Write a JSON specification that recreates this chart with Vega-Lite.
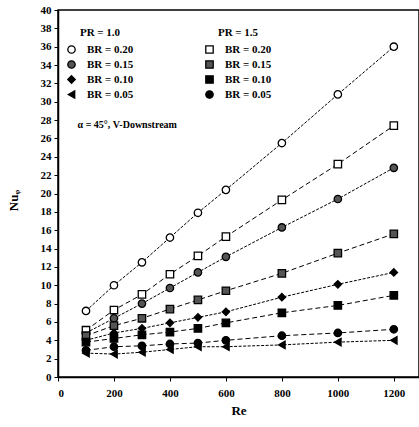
{
  "$schema": "https://vega.github.io/schema/vega-lite/v6.json",
  "width": 361,
  "height": 367,
  "autosize": "none",
  "padding": {"left": 58, "top": 10, "right": 0, "bottom": 50},
  "background": "white",
  "config": {
    "view": {"stroke": "black", "strokeWidth": 1.5},
    "axis": {
      "grid": false,
      "labelFont": "Liberation Serif",
      "labelFontWeight": "bold",
      "labelFontSize": 11,
      "labelColor": "black",
      "titleFont": "Liberation Serif",
      "titleFontWeight": "bold",
      "titleFontSize": 13,
      "titleColor": "black",
      "domainColor": "black",
      "domainWidth": 1.5,
      "tickColor": "black",
      "tickSize": 4
    },
    "legend": {
      "labelFont": "Liberation Serif",
      "labelFontWeight": "bold",
      "labelFontSize": 11,
      "labelColor": "black",
      "labelOffset": 10,
      "titleFont": "Liberation Serif",
      "titleFontWeight": "bold",
      "titleFontSize": 11,
      "titleColor": "black",
      "rowPadding": 2,
      "symbolSize": 55,
      "symbolStrokeWidth": 1.3
    }
  },
  "datasets": {
    "main": [
      {"re": 100, "nu": 7.2, "pr": "1.0", "br": "0.20"},
      {"re": 200, "nu": 10.0, "pr": "1.0", "br": "0.20"},
      {"re": 300, "nu": 12.5, "pr": "1.0", "br": "0.20"},
      {"re": 400, "nu": 15.2, "pr": "1.0", "br": "0.20"},
      {"re": 500, "nu": 17.9, "pr": "1.0", "br": "0.20"},
      {"re": 600, "nu": 20.4, "pr": "1.0", "br": "0.20"},
      {"re": 800, "nu": 25.5, "pr": "1.0", "br": "0.20"},
      {"re": 1000, "nu": 30.8, "pr": "1.0", "br": "0.20"},
      {"re": 1200, "nu": 36.0, "pr": "1.0", "br": "0.20"},
      {"re": 100, "nu": 4.8, "pr": "1.0", "br": "0.15"},
      {"re": 200, "nu": 6.4, "pr": "1.0", "br": "0.15"},
      {"re": 300, "nu": 8.0, "pr": "1.0", "br": "0.15"},
      {"re": 400, "nu": 9.7, "pr": "1.0", "br": "0.15"},
      {"re": 500, "nu": 11.4, "pr": "1.0", "br": "0.15"},
      {"re": 600, "nu": 13.1, "pr": "1.0", "br": "0.15"},
      {"re": 800, "nu": 16.3, "pr": "1.0", "br": "0.15"},
      {"re": 1000, "nu": 19.4, "pr": "1.0", "br": "0.15"},
      {"re": 1200, "nu": 22.8, "pr": "1.0", "br": "0.15"},
      {"re": 100, "nu": 4.0, "pr": "1.0", "br": "0.10"},
      {"re": 200, "nu": 4.8, "pr": "1.0", "br": "0.10"},
      {"re": 300, "nu": 5.3, "pr": "1.0", "br": "0.10"},
      {"re": 400, "nu": 5.9, "pr": "1.0", "br": "0.10"},
      {"re": 500, "nu": 6.5, "pr": "1.0", "br": "0.10"},
      {"re": 600, "nu": 7.1, "pr": "1.0", "br": "0.10"},
      {"re": 800, "nu": 8.7, "pr": "1.0", "br": "0.10"},
      {"re": 1000, "nu": 10.1, "pr": "1.0", "br": "0.10"},
      {"re": 1200, "nu": 11.4, "pr": "1.0", "br": "0.10"},
      {"re": 100, "nu": 2.6, "pr": "1.0", "br": "0.05"},
      {"re": 200, "nu": 2.5, "pr": "1.0", "br": "0.05"},
      {"re": 300, "nu": 2.7, "pr": "1.0", "br": "0.05"},
      {"re": 400, "nu": 3.0, "pr": "1.0", "br": "0.05"},
      {"re": 500, "nu": 3.3, "pr": "1.0", "br": "0.05"},
      {"re": 600, "nu": 3.3, "pr": "1.0", "br": "0.05"},
      {"re": 800, "nu": 3.5, "pr": "1.0", "br": "0.05"},
      {"re": 1000, "nu": 3.8, "pr": "1.0", "br": "0.05"},
      {"re": 1200, "nu": 4.0, "pr": "1.0", "br": "0.05"},
      {"re": 100, "nu": 5.1, "pr": "1.5", "br": "0.20"},
      {"re": 200, "nu": 7.3, "pr": "1.5", "br": "0.20"},
      {"re": 300, "nu": 9.0, "pr": "1.5", "br": "0.20"},
      {"re": 400, "nu": 11.2, "pr": "1.5", "br": "0.20"},
      {"re": 500, "nu": 13.2, "pr": "1.5", "br": "0.20"},
      {"re": 600, "nu": 15.3, "pr": "1.5", "br": "0.20"},
      {"re": 800, "nu": 19.3, "pr": "1.5", "br": "0.20"},
      {"re": 1000, "nu": 23.2, "pr": "1.5", "br": "0.20"},
      {"re": 1200, "nu": 27.4, "pr": "1.5", "br": "0.20"},
      {"re": 100, "nu": 4.5, "pr": "1.5", "br": "0.15"},
      {"re": 200, "nu": 5.6, "pr": "1.5", "br": "0.15"},
      {"re": 300, "nu": 6.4, "pr": "1.5", "br": "0.15"},
      {"re": 400, "nu": 7.4, "pr": "1.5", "br": "0.15"},
      {"re": 500, "nu": 8.4, "pr": "1.5", "br": "0.15"},
      {"re": 600, "nu": 9.4, "pr": "1.5", "br": "0.15"},
      {"re": 800, "nu": 11.3, "pr": "1.5", "br": "0.15"},
      {"re": 1000, "nu": 13.5, "pr": "1.5", "br": "0.15"},
      {"re": 1200, "nu": 15.6, "pr": "1.5", "br": "0.15"},
      {"re": 100, "nu": 3.8, "pr": "1.5", "br": "0.10"},
      {"re": 200, "nu": 4.2, "pr": "1.5", "br": "0.10"},
      {"re": 300, "nu": 4.6, "pr": "1.5", "br": "0.10"},
      {"re": 400, "nu": 4.9, "pr": "1.5", "br": "0.10"},
      {"re": 500, "nu": 5.3, "pr": "1.5", "br": "0.10"},
      {"re": 600, "nu": 5.9, "pr": "1.5", "br": "0.10"},
      {"re": 800, "nu": 7.0, "pr": "1.5", "br": "0.10"},
      {"re": 1000, "nu": 7.8, "pr": "1.5", "br": "0.10"},
      {"re": 1200, "nu": 8.9, "pr": "1.5", "br": "0.10"},
      {"re": 100, "nu": 2.9, "pr": "1.5", "br": "0.05"},
      {"re": 200, "nu": 3.3, "pr": "1.5", "br": "0.05"},
      {"re": 300, "nu": 3.4, "pr": "1.5", "br": "0.05"},
      {"re": 400, "nu": 3.6, "pr": "1.5", "br": "0.05"},
      {"re": 500, "nu": 3.7, "pr": "1.5", "br": "0.05"},
      {"re": 600, "nu": 4.0, "pr": "1.5", "br": "0.05"},
      {"re": 800, "nu": 4.5, "pr": "1.5", "br": "0.05"},
      {"re": 1000, "nu": 4.8, "pr": "1.5", "br": "0.05"},
      {"re": 1200, "nu": 5.2, "pr": "1.5", "br": "0.05"}
    ],
    "note": [{"label": "α = 45°, V-Downstream"}]
  },
  "layer": [
    {
      "data": {"name": "main"},
      "encoding": {
        "x": {
          "field": "re", "type": "quantitative", "title": "Re",
          "scale": {"domain": [0, 1290], "nice": false},
          "axis": {"values": [0, 200, 400, 600, 800, 1000, 1200], "format": "d", "titlePadding": 6, "labelPadding": 6}
        },
        "y": {
          "field": "nu", "type": "quantitative", "title": "Nuᵩ",
          "scale": {"domain": [0, 40], "nice": false},
          "axis": {"values": [0,2,4,6,8,10,12,14,16,18,20,22,24,26,28,30,32,34,36,38,40], "titleX": -38, "titleY": 190, "labelPadding": 3}
        }
      },
      "layer": [
        {
          "transform": [{"filter": "datum.pr == '1.0'"}],
          "mark": {"type": "line", "color": "black", "strokeWidth": 1, "strokeDash": [3, 1.5]},
          "encoding": {"detail": {"field": "br"}}
        },
        {
          "transform": [{"filter": "datum.pr == '1.5'"}],
          "mark": {"type": "line", "color": "black", "strokeWidth": 1, "strokeDash": [5, 3]},
          "encoding": {"detail": {"field": "br"}}
        },
        {
          "transform": [{"filter": "datum.pr == '1.0'"}],
          "mark": {"type": "point", "filled": false, "strokeWidth": 1.3, "size": 55, "opacity": 1},
          "encoding": {
            "shape": {
              "field": "br", "type": "nominal", "title": "PR = 1.0",
              "scale": {"domain": ["0.20", "0.15", "0.10", "0.05"], "range": ["circle", "circle", "diamond", "triangle-left"]},
              "legend": {"orient": "none", "legendX": 8, "legendY": 17, "labelExpr": "'BR = ' + datum.label", "titleAnchor": "middle", "titlePadding": 6}
            },
            "fill": {
              "field": "br", "type": "nominal", "title": "PR = 1.0",
              "scale": {"domain": ["0.20", "0.15", "0.10", "0.05"], "range": ["white", "#555555", "black", "black"]},
              "legend": {"orient": "none", "legendX": 8, "legendY": 17, "labelExpr": "'BR = ' + datum.label", "titleAnchor": "middle", "titlePadding": 6}
            },
            "stroke": {
              "field": "br", "type": "nominal", "title": "PR = 1.0",
              "scale": {"domain": ["0.20", "0.15", "0.10", "0.05"], "range": ["black", "black", "black", "black"]},
              "legend": {"orient": "none", "legendX": 8, "legendY": 17, "labelExpr": "'BR = ' + datum.label", "titleAnchor": "middle", "titlePadding": 6}
            }
          }
        },
        {
          "transform": [{"filter": "datum.pr == '1.5'"}],
          "mark": {"type": "point", "filled": false, "strokeWidth": 1.3, "size": 55, "opacity": 1},
          "encoding": {
            "shape": {
              "field": "br", "type": "nominal", "title": "PR = 1.5",
              "scale": {"domain": ["0.20", "0.15", "0.10", "0.05"], "range": ["square", "square", "square", "circle"]},
              "legend": {"orient": "none", "legendX": 146, "legendY": 17, "labelExpr": "'BR = ' + datum.label", "titleAnchor": "middle", "titlePadding": 6}
            },
            "fill": {
              "field": "br", "type": "nominal", "title": "PR = 1.5",
              "scale": {"domain": ["0.20", "0.15", "0.10", "0.05"], "range": ["white", "#555555", "black", "black"]},
              "legend": {"orient": "none", "legendX": 146, "legendY": 17, "labelExpr": "'BR = ' + datum.label", "titleAnchor": "middle", "titlePadding": 6}
            },
            "stroke": {
              "field": "br", "type": "nominal", "title": "PR = 1.5",
              "scale": {"domain": ["0.20", "0.15", "0.10", "0.05"], "range": ["black", "black", "black", "black"]},
              "legend": {"orient": "none", "legendX": 146, "legendY": 17, "labelExpr": "'BR = ' + datum.label", "titleAnchor": "middle", "titlePadding": 6}
            }
          }
        }
      ],
      "resolve": {
        "scale": {"shape": "independent", "fill": "independent", "stroke": "independent"},
        "legend": {"shape": "independent", "fill": "independent", "stroke": "independent"}
      }
    },
    {
      "data": {"name": "note"},
      "mark": {"type": "text", "align": "left", "baseline": "middle", "font": "Liberation Serif", "fontWeight": "bold", "fontSize": 10, "color": "black"},
      "encoding": {
        "x": {"datum": 70, "type": "quantitative", "axis": {"values": [0, 200, 400, 600, 800, 1000, 1200], "format": "d", "titlePadding": 6, "labelPadding": 6}},
        "y": {"datum": 27.5, "type": "quantitative", "axis": {"values": [0,2,4,6,8,10,12,14,16,18,20,22,24,26,28,30,32,34,36,38,40], "titleX": -38, "titleY": 190, "labelPadding": 3}},
        "text": {"field": "label", "type": "nominal"}
      }
    }
  ]
}
